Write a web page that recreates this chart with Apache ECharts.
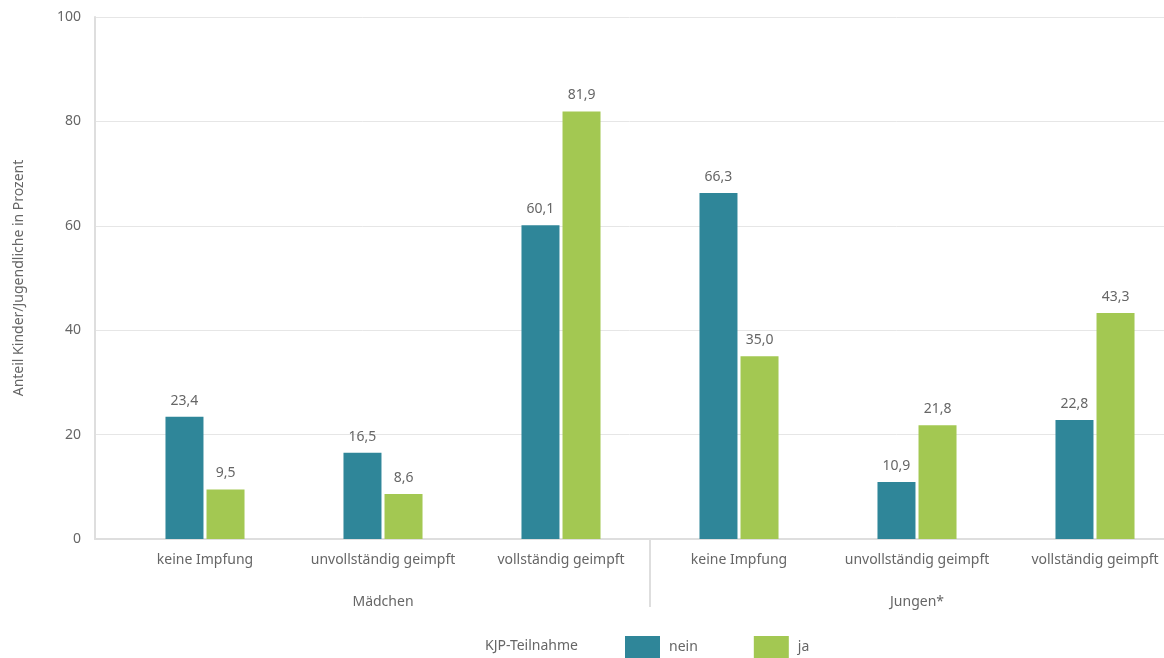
<!DOCTYPE html>
<html>
<head>
<meta charset="utf-8">
<script src="https://cdn.jsdelivr.net/npm/echarts@6/dist/echarts.min.js"></script>
<style>
  html, body { margin: 0; padding: 0; background: #fff; overflow: hidden; }
  /* canvas slightly wider than the viewport: the last category band runs past the right edge */
  #chart { width: 1184px; height: 658px; }
</style>
</head>
<body>
<div id="chart"></div>
<script>
// Impfstatus nach Geschlecht und KJP-Teilnahme
const categories = ['keine Impfung', 'unvollständig geimpft', 'vollständig geimpft',
                    'keine Impfung', 'unvollständig geimpft', 'vollständig geimpft'];
const groups = ['Mädchen', 'Jungen*'];
const seriesNames = ['nein', 'ja'];
const valuesNein = [23.4, 16.5, 60.1, 66.3, 10.9, 22.8];
const valuesJa = [9.5, 8.6, 81.9, 35.0, 21.8, 43.3];
const yTicks = [0, 20, 40, 60, 80, 100];

const FONT = 'Noto Sans';
const TEXT = '#666';
const TEAL = '#2f8699';
const GREEN = '#a3c852';
const LINE = '#dedede';

const fmt = v => v.toFixed(1).replace('.', ',');

const chart = echarts.init(document.getElementById('chart'));

const barLabel = {
  show: true, position: 'top', distance: 9,
  color: TEXT, fontFamily: FONT, fontSize: 14,
  formatter: p => fmt(p.value)
};

chart.setOption({
  animation: false,
  textStyle: { fontFamily: FONT },
  grid: [
    { left: 116, right: 0, top: 17, bottom: 119 },
    { left: 95, right: 20, top: 17, bottom: 119 }
  ],
  xAxis: [
    {
      type: 'category', gridIndex: 0, data: categories,
      axisLine: { show: false }, axisTick: { show: false },
      axisLabel: { color: TEXT, fontFamily: FONT, fontSize: 14, margin: 14, interval: 0 }
    },
    {
      type: 'category', gridIndex: 0, data: groups, position: 'bottom', offset: 42,
      axisLine: { show: false }, axisTick: { show: false },
      axisLabel: { color: TEXT, fontFamily: FONT, fontSize: 14, margin: 14, interval: 0 }
    },
    {
      type: 'value', gridIndex: 1, min: 0, max: 1,
      axisLine: { show: true, lineStyle: { color: LINE, width: 2 } },
      axisTick: { show: false }, axisLabel: { show: false }, splitLine: { show: false }
    }
  ],
  yAxis: [
    { type: 'value', gridIndex: 0, min: 0, max: 100, show: false },
    {
      type: 'value', gridIndex: 1, min: yTicks[0], max: yTicks[yTicks.length - 1], interval: 20,
      name: 'Anteil Kinder/Jugendliche in Prozent', nameLocation: 'middle', nameGap: 69,
      nameTextStyle: { color: TEXT, fontFamily: FONT, fontSize: 14 },
      axisLine: { show: true, lineStyle: { color: LINE, width: 2 } },
      axisTick: { show: false },
      axisLabel: { color: TEXT, fontFamily: FONT, fontSize: 14, margin: 14 },
      splitLine: { show: true, lineStyle: { color: '#e6e6e6', width: 1 } }
    }
  ],
  legend: {
    data: seriesNames, left: 620, top: 631, itemWidth: 35, itemHeight: 22, itemGap: 56,
    icon: 'rect',
    textStyle: { color: TEXT, fontFamily: FONT, fontSize: 14, padding: [0, 0, 0, 4] }
  },
  series: [
    {
      name: seriesNames[0], type: 'bar', xAxisIndex: 0, yAxisIndex: 0,
      data: valuesNein, barWidth: 38, barGap: '8%',
      itemStyle: { color: TEAL }, label: barLabel
    },
    {
      name: seriesNames[1], type: 'bar', xAxisIndex: 0, yAxisIndex: 0,
      data: valuesJa, barWidth: 38, barGap: '8%',
      itemStyle: { color: GREEN }, label: barLabel
    }
  ]
});

// Trennlinie zwischen den Geschlechtergruppen und Legendentitel
const c2 = chart.convertToPixel({ xAxisIndex: 0 }, 2);
const c3 = chart.convertToPixel({ xAxisIndex: 0 }, 3);
const divX = Math.round((c2 + c3) / 2);
const axisY = chart.convertToPixel({ yAxisIndex: 0 }, 0);
chart.setOption({
  graphic: [
    {
      type: 'line', z: 10,
      shape: { x1: divX, y1: axisY, x2: divX, y2: axisY + 68 },
      style: { stroke: LINE, lineWidth: 2 }
    },
    {
      type: 'text', left: 485, top: 639,
      style: { text: 'KJP-Teilnahme', fill: TEXT, font: '14px "Noto Sans"' }
    }
  ]
});
</script>
</body>
</html>
